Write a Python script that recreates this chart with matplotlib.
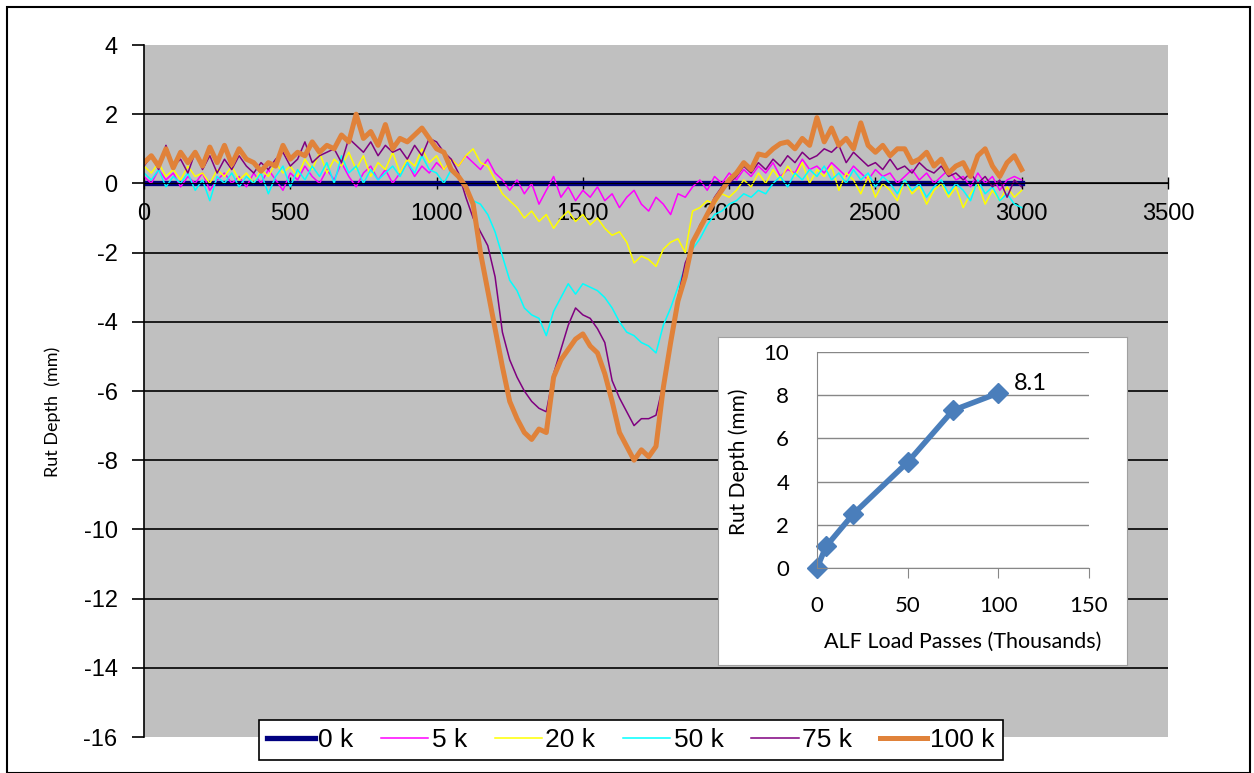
import numpy as np
import matplotlib
matplotlib.use('Agg')
import matplotlib.pyplot as plt
from matplotlib.patches import Rectangle

plt.rcParams['font.family'] = ['Liberation Sans', 'DejaVu Sans']
plt.rcParams['axes.unicode_minus'] = False

# transverse profile stations (mm), one reading every 25 mm
station = np.arange(0, 3001, 25)

rut_0k = [0.0] * len(station)

rut_5k = [0.2, 0.0, 0.4, 0.1, 0.3, -0.1, 0.2, 0.0, 0.3, -0.2,
          0.1, 0.3, 0.0, 0.2, -0.1, 0.3, 0.0, 0.4, 0.1, -0.2,
          0.3, 0.1, 0.5, 0.2, 0.0, 0.4, 0.1, 0.6, 0.2, -0.1,
          0.3, 0.5, 0.1, 0.4, 0.0, 0.3, 0.6, 0.2, 0.5, 0.3,
          0.6, 0.4, 0.7, 0.5, 0.8, 0.6, 0.4, 0.7, 0.3, 0.1,
          -0.2, 0.1, -0.3, 0.0, -0.6, -0.2, 0.2, -0.4, -0.1, -0.5,
          -0.2, -0.4, -0.1, -0.5, -0.3, -0.7, -0.4, -0.2, -0.6, -0.8,
          -0.4, -0.6, -0.9, -0.3, -0.4, -0.1, 0.1, -0.2, 0.2, 0.0,
          0.3, 0.1, 0.4, 0.2, 0.5, 0.3, 0.6, 0.2, 0.4, 0.3,
          0.7, 0.4, 0.5, 0.3, 0.6, 0.4, 0.2, 0.5, 0.3, 0.1,
          0.4, 0.2, 0.3, 0.0, 0.2, 0.4, 0.1, 0.3, 0.0, 0.2,
          0.4, 0.1, 0.2, -0.1, 0.3, 0.0, 0.2, -0.2, 0.1, 0.2,
          0.1]

rut_20k = [0.5, 0.3, 0.6, 0.2, 0.4, 0.1, 0.5, 0.2, 0.3, 0.0,
           0.4, 0.2, 0.5, 0.1, 0.3, 0.0, 0.4, 0.2, 0.6, 0.3,
           0.5, 0.2, 0.7, 0.4, 0.9, 0.3, 0.7, 0.5, 0.9, 0.4,
           0.8, 0.2, 0.6, 0.4, 0.9, 0.3, 0.7, 0.5, 1.0, 0.6,
           0.8, 0.4, 0.7, 0.5, 0.8, 1.0, 0.6, 0.5, 0.1, -0.3,
           -0.5, -0.7, -1.0, -0.8, -1.1, -0.9, -1.3, -1.0, -0.8, -1.1,
           -0.9, -1.2, -1.0, -1.3, -1.5, -1.4, -1.7, -2.3, -2.1, -2.2,
           -2.4, -1.9, -1.7, -1.6, -2.0, -0.8, -0.7, -0.5, -0.6, -0.3,
           -0.4, -0.2, 0.1, -0.1, 0.3, 0.0, 0.4, 0.1, 0.5, 0.2,
           0.6, 0.0, 0.4, 0.2, 0.5, -0.2, 0.3, 0.1, -0.3, 0.2,
           -0.4, 0.0, -0.2, -0.5, 0.1, -0.3, -0.1, -0.6, -0.2, 0.0,
           -0.4, -0.1, -0.7, -0.3, 0.0, -0.6, -0.2, -0.5, -0.1, -0.4,
           -0.2]

rut_50k = [0.3, 0.1, 0.4, -0.1, 0.2, 0.0, 0.3, -0.2, 0.1, -0.5,
           0.2, 0.0, 0.3, -0.1, 0.2, 0.0, 0.3, -0.3, 0.2, 0.5,
           -0.1, 0.4, 0.1, 0.5, 0.2, 0.6, 0.0, 0.8, 0.3, 0.5,
           0.0, 0.4, 0.1, 0.3, 0.5, 0.2, 0.6, 0.3, 0.8, 0.4,
           0.3, 0.0, 0.4, 0.2, -0.2, -0.5, -0.6, -0.9, -1.4, -2.1,
           -2.8, -3.1, -3.6, -3.8, -3.9, -4.4, -3.7, -3.3, -2.9, -3.2,
           -2.9, -3.0, -3.1, -3.3, -3.6, -4.0, -4.3, -4.4, -4.6, -4.7,
           -4.9, -4.1, -3.6, -3.0, -2.4, -1.9, -1.6, -1.2, -0.9, -0.8,
           -0.6, -0.5, -0.3, -0.4, -0.2, -0.3, 0.0, 0.2, -0.1, 0.3,
           0.1, 0.4, 0.2, 0.5, 0.1, 0.3, 0.0, 0.4, 0.1, 0.3,
           -0.1, 0.2, 0.0, -0.3, 0.1, -0.2, 0.0, -0.4, -0.1, 0.1,
           -0.3, 0.0, -0.2, -0.5, 0.1, -0.3, -0.1, -0.5, -0.3, -0.6,
           -0.7]

rut_75k = [0.5, 0.8, 0.4, 1.1, 0.5, 0.7, 0.3, 0.9, 0.4, 0.8,
           0.3, 0.7, 0.4, 0.8, 0.5, 0.3, 0.6, 0.4, 0.7, 0.9,
           0.5, 0.7, 1.2, 0.6, 0.8, 0.9, 1.0, 0.6, 1.3, 1.1,
           0.9, 1.2, 0.8, 1.1, 0.9, 1.0, 0.7, 1.1, 0.8, 1.3,
           1.2, 0.9, 0.7, 0.3, -0.4, -1.0, -1.4, -1.8, -2.7, -4.3,
           -5.1, -5.6, -6.0, -6.3, -6.5, -6.6, -5.5, -4.8, -4.1, -3.6,
           -3.8, -3.9, -4.2, -4.6, -5.7, -6.2, -6.6, -7.0, -6.8, -6.8,
           -6.7, -5.8, -4.6, -3.3, -2.3, -1.8, -1.2, -0.9, -0.4, -0.1,
           0.0, 0.2, 0.5, 0.3, 0.6, 0.4, 0.7, 0.5, 0.8, 0.6,
           0.9, 0.7, 0.8, 1.0, 0.9, 1.1, 0.6, 0.9, 0.7, 0.5,
           0.6, 0.4, 0.7, 0.4, 0.5, 0.3, 0.6, 0.4, 0.3, 0.5,
           0.2, 0.3, 0.1, 0.3, 0.0, 0.2, -0.1, 0.1, -0.4, 0.1,
           -0.1]

rut_100k = [0.6, 0.8, 0.5, 1.0, 0.45, 0.9, 0.6, 0.9, 0.5, 1.05,
            0.6, 1.1, 0.55, 1.0, 0.7, 0.6, 0.35, 0.6, 0.5, 1.1,
            0.7, 0.9, 0.8, 1.2, 0.9, 1.1, 1.0, 1.4, 1.2, 2.0,
            1.3, 1.5, 1.1, 1.7, 1.0, 1.3, 1.2, 1.4, 1.6, 1.3,
            1.0, 0.9, 0.4, 0.2, -0.1, -0.6, -2.0, -3.1, -4.2, -5.3,
            -6.3, -6.8, -7.2, -7.4, -7.1, -7.2, -5.6, -5.1, -4.8, -4.5,
            -4.35, -4.7, -4.9, -5.5, -6.3, -7.2, -7.6, -8.0, -7.7, -7.9,
            -7.6, -5.9, -4.6, -3.4, -2.7, -1.7, -1.3, -0.9, -0.5, -0.2,
            0.1, 0.3, 0.6, 0.4, 0.85, 0.8, 1.0, 1.15, 1.2, 1.0,
            1.3, 1.1, 1.9, 1.2, 1.6, 1.1, 1.3, 1.0, 1.75, 1.1,
            0.9, 1.1, 0.8, 1.0, 1.0, 0.6, 0.7, 0.9, 0.5, 0.7,
            0.3, 0.5, 0.6, 0.2, 0.8, 1.0, 0.5, 0.2, 0.6, 0.8,
            0.4]

labels = ['0 k', '5 k', '20 k', '50 k', '75 k', '100 k']
colors = ['#000080', '#FF00FF', '#FFFF00', '#00FFFF', '#800080', '#E0823A']
widths = [3.8, 1.1, 1.1, 1.1, 1.1, 3.6]

# inset: maximum rut depth vs load passes
passes = [0, 5, 20, 50, 75, 100]
max_rut = [0, 1.0, 2.5, 4.9, 7.3, 8.1]

W, H = 1254, 773
fig = plt.figure(figsize=(W / 100, H / 100), dpi=100)
fig.patch.set_facecolor('white')
lato = ['Lato', 'DejaVu Sans']

ax = fig.add_axes([144 / W, 1 - 737 / H, (1168 - 144) / W, (737 - 45) / H])
ax.set_facecolor('#C0C0C0')
series = [rut_0k, rut_5k, rut_20k, rut_50k, rut_75k, rut_100k]
for s, lab, c, w in zip(series, labels, colors, widths):
    ax.plot(station, s, color=c, lw=w, label=lab, solid_joinstyle='round')

ax.set_xlim(0, 3500)
ax.set_ylim(-16, 4)
ax.set_yticks(np.arange(-16, 5, 2))
ax.set_xticks(np.arange(0, 3501, 500))
for yv in range(-14, 3, 2):
    ax.axhline(yv, color='black', lw=1.2, zorder=0.5)
ax.spines['top'].set_visible(False)
ax.spines['right'].set_visible(False)
ax.spines['bottom'].set_position(('data', 0))
ax.spines['bottom'].set_color('black')
ax.spines['left'].set_linewidth(1.2)
ax.tick_params(axis='y', direction='out', length=9, width=1.2, labelsize=17, pad=10)
ax.tick_params(axis='x', direction='inout', length=8, width=1.0, labelsize=17, pad=10)
ax.set_ylabel('Rut Depth  (mm)', fontsize=13, family=lato)
ax.yaxis.set_label_coords(-0.081, 0.47)

leg = ax.legend(loc='center', ncol=6, bbox_to_anchor=(631 / W, 1 - 740 / H),
                bbox_transform=fig.transFigure, frameon=True, fontsize=19,
                fancybox=False, edgecolor='black', handlelength=1.8,
                handletextpad=0.12, columnspacing=1.05, borderpad=0.3)
leg.get_frame().set_linewidth(1.2)
leg.get_frame().set_alpha(1)

# white box behind the inset
box = fig.add_axes([718 / W, 1 - 665 / H, (1127 - 718) / W, (665 - 337) / H])
box.set_facecolor('white')
box.set_xticks([])
box.set_yticks([])
for sp in box.spines.values():
    sp.set_color('#A0A0A0')
    sp.set_linewidth(0.8)

ins = fig.add_axes([817 / W, 1 - 568 / H, (1089 - 817) / W, (568 - 352) / H])
ins.set_facecolor('white')
ins.plot(passes, max_rut, color='#4A7EBB', lw=4, marker='D', markersize=10, clip_on=False)
ins.set_xlim(0, 150)
ins.set_ylim(0, 10)
ins.set_xticks([0, 50, 100, 150])
ins.set_yticks(np.arange(0, 11, 2))
ins.grid(axis='y', color='#878787', lw=1)
ins.set_axisbelow(True)
ins.spines['top'].set_visible(False)
ins.spines['right'].set_visible(False)
ins.spines['left'].set_color('#878787')
ins.spines['bottom'].set_color('#878787')
ins.tick_params(axis='y', length=0, pad=20, labelsize=16)
ins.tick_params(axis='x', direction='out', color='#878787', length=7, pad=13, labelsize=16)
for t in ins.get_xticklabels() + ins.get_yticklabels():
    t.set_family(lato)
ins.set_xlabel('ALF Load Passes (Thousands)', fontsize=15.5, family=lato)
ins.xaxis.set_label_coords(0.537, -0.296)
ins.set_ylabel('Rut Depth (mm)', fontsize=15, family=lato)
ins.yaxis.set_label_coords(-0.25, 0.49)
ins.annotate('8.1', (passes[-1], max_rut[-1]), xytext=(11, 2), textcoords='offset points',
             fontsize=17, family=lato)

# outer chart border
fig.patches.append(Rectangle((7 / W, 0), (1250 - 7) / W, 1 - 7 / H, transform=fig.transFigure,
                             fill=False, edgecolor='black', lw=1.5, zorder=10))

fig.savefig('out.png', dpi=100)
